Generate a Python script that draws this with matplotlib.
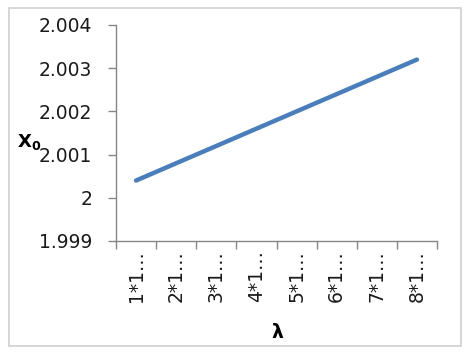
import matplotlib
matplotlib.use("Agg")
import matplotlib.pyplot as plt
from matplotlib.patches import Rectangle

categories = ["1*1…", "2*1…", "3*1…", "4*1…", "5*1…", "6*1…", "7*1…", "8*1…"]
x0_values = [2.0004, 2.0008, 2.0012, 2.0016, 2.0020, 2.0024, 2.0028, 2.0032]
yticks = [1.999, 2.0, 2.001, 2.002, 2.003, 2.004]
ytick_labels = ["1.999", "2", "2.001", "2.002", "2.003", "2.004"]

plt.rcParams['font.family'] = ['DejaVu Sans']
plt.rcParams['mathtext.fontset'] = 'dejavusans'

fig = plt.figure(figsize=(4.70, 3.53), dpi=100)
ax = fig.add_axes([116/470, 1 - 241/353, (437-116)/470, (241-25)/353])

xs = list(range(len(categories)))
ax.plot(xs, x0_values, color="#4a7ebb", linewidth=3.2, solid_capstyle="round")

ax.set_xlim(-0.5, len(categories) - 0.5)
ax.set_ylim(1.999, 2.004)
ax.set_yticks(yticks)
ax.set_yticklabels(ytick_labels, fontsize=13.5, color="#1a1a1a")
ax.set_xticks(xs)
ax.set_xticklabels(categories, rotation=90, fontsize=13.5, color="#1a1a1a")
ax.set_xticks([i - 0.5 for i in range(len(categories) + 1)], minor=True)
ax.tick_params(axis='x', which='major', length=0, pad=6.5)
ax.tick_params(axis='x', which='minor', length=5.5, color="#868686", width=1, direction='out')
ax.tick_params(axis='y', length=6, color="#868686", width=1, direction='out', pad=11)

for s in ["top", "right"]:
    ax.spines[s].set_visible(False)
for s in ["left", "bottom"]:
    ax.spines[s].set_color("#868686")
    ax.spines[s].set_linewidth(1)

fig.text(277/470, 1 - 332/353, "λ", fontsize=13.5, fontweight="bold", ha="center", va="center")
fig.text(17/470, 1 - 142/353, r"$\mathbf{X_0}$", fontsize=13, ha="left", va="center")

fig.patches.append(Rectangle((9/470, 1 - 346/353), (461-9)/470, (346-8)/353,
                             transform=fig.transFigure, fill=False,
                             edgecolor="#d0d0d0", linewidth=1.2))

fig.savefig("out.png", dpi=100)
